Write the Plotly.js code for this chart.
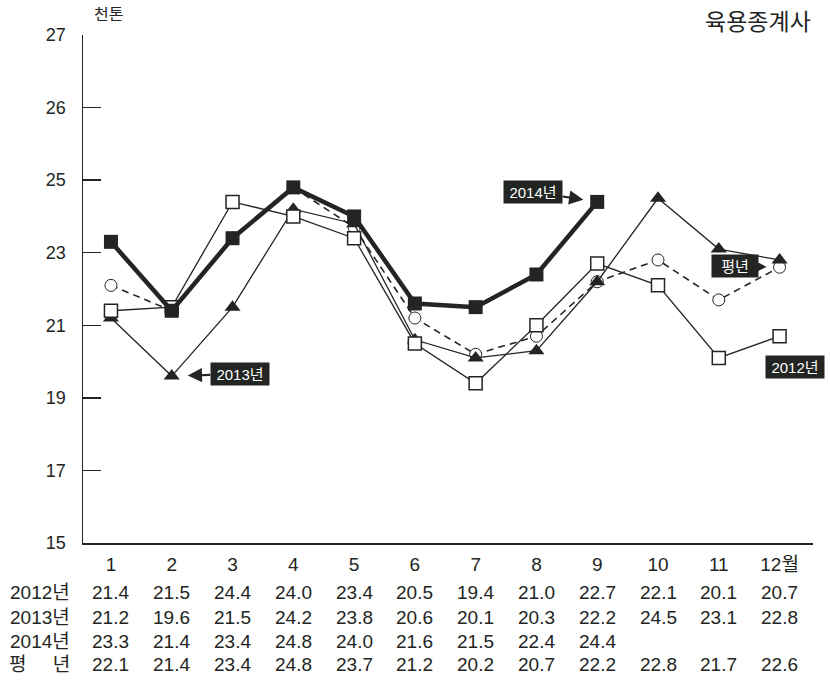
<!DOCTYPE html>
<html>
<head>
<meta charset="utf-8">
<script src="https://cdn.plot.ly/plotly-3.0.1.min.js"></script>
<style>
  html, body { margin: 0; padding: 0; background: #ffffff; }
  #chart { width: 830px; height: 686px; }
</style>
</head>
<body>
<div id="chart"></div>
<script>
// ---- data ----
const months = [1, 2, 3, 4, 5, 6, 7, 8, 9, 10, 11, 12];
const monthLabels = ['1', '2', '3', '4', '5', '6', '7', '8', '9', '10', '11', '12월'];
const y2012 = [21.4, 21.5, 24.4, 24.0, 23.4, 20.5, 19.4, 21.0, 22.7, 22.1, 20.1, 20.7];
const y2013 = [21.2, 19.6, 21.5, 24.2, 23.8, 20.6, 20.1, 20.3, 22.2, 24.5, 23.1, 22.8];
const y2014 = [23.3, 21.4, 23.4, 24.8, 24.0, 21.6, 21.5, 22.4, 24.4];
const yAvg  = [22.1, 21.4, 23.4, 24.8, 23.7, 21.2, 20.2, 20.7, 22.2, 22.8, 21.7, 22.6];
const seriesNames = ['2012년', '2013년', '2014년', '평년'];
const rowLabels = ['2012년', '2013년', '2014년', '평\u00a0\u00a0\u00a0\u00a0\u00a0년'];
const yTickVals = [15, 17, 19, 21, 23, 25, 27, 29];
const yTickText = ['15', '17', '19', '21', '23', '25', '26', '27'];
const unitLabel = '천톤';
const headerText = '육용종계사';

// ---- styles ----
const INK = '#222522';
const FONT = 'Liberation Sans, Arial, "Noto Sans CJK KR", sans-serif';

const traces = [
  {
    name: seriesNames[3], x: months, y: yAvg, type: 'scatter', mode: 'lines+markers',
    line: { color: INK, width: 1.6, dash: '7px,5px' },
    marker: { symbol: 'circle', size: 12, color: '#ffffff', line: { color: INK, width: 1 } }
  },
  {
    name: seriesNames[1], x: months, y: y2013, type: 'scatter', mode: 'lines+markers',
    line: { color: INK, width: 1.3 },
    marker: { symbol: 'triangle-up', size: 14, color: INK }
  },
  {
    name: seriesNames[0], x: months, y: y2012, type: 'scatter', mode: 'lines+markers',
    line: { color: INK, width: 1.3 },
    marker: { symbol: 'square', size: 13, color: '#ffffff', line: { color: INK, width: 1.5 } }
  },
  {
    name: seriesNames[2], x: months.slice(0, y2014.length), y: y2014, type: 'scatter', mode: 'lines+markers',
    line: { color: INK, width: 4.5 },
    marker: { symbol: 'square', size: 14, color: INK }
  }
];

const annotations = [];
// data table below the axis
const tableRows = [y2012, y2013, y2014, yAvg];
const rowY = [-0.098, -0.146, -0.193, -0.240];
tableRows.forEach((row, r) => {
  annotations.push({
    xref: 'paper', yref: 'paper', x: -0.015, y: rowY[r], xanchor: 'right', yanchor: 'middle',
    text: rowLabels[r], showarrow: false, font: { family: FONT, size: 19, color: INK }
  });
  row.forEach((v, i) => {
    annotations.push({
      xref: 'x', yref: 'paper', x: months[i], y: rowY[r], xanchor: 'center', yanchor: 'middle',
      text: v.toFixed(1), showarrow: false, font: { family: FONT, size: 19, color: INK }
    });
  });
});

// unit + header
annotations.push({
  xref: 'paper', yref: 'paper', x: 0.013, y: 1.04, xanchor: 'left', yanchor: 'middle',
  text: unitLabel, showarrow: false, font: { family: FONT, size: 16, color: INK }
});
annotations.push({
  xref: 'paper', yref: 'paper', x: 0.849, y: 1.026, xanchor: 'left', yanchor: 'middle',
  text: headerText, showarrow: false, font: { family: FONT, size: 23, color: INK }
});

// series callouts
const calloutStyle = {
  showarrow: true, arrowhead: 2, arrowsize: 1.3, arrowwidth: 2.2, arrowcolor: INK,
  bgcolor: INK, borderpad: 3, width: 52, height: 16,
  font: { family: FONT, size: 15, color: '#ffffff' }, axref: 'pixel', ayref: 'pixel'
};
const i14 = y2014.length - 1;
annotations.push(Object.assign({}, calloutStyle, {
  x: months[i14], y: y2014[i14], text: seriesNames[2], ax: -64, ay: -10, standoff: 14
}));
annotations.push(Object.assign({}, calloutStyle, {
  x: months[1], y: y2013[1], text: seriesNames[1], ax: 68, ay: -2, standoff: 16
}));
annotations.push(Object.assign({}, calloutStyle, {
  x: months[11], y: yAvg[11], text: seriesNames[3], ax: -45, ay: -1, standoff: 13, width: 40
}));
const t = 0.6;
annotations.push(Object.assign({}, calloutStyle, {
  x: months[10] + t, y: y2012[10] + t * (y2012[11] - y2012[10]), text: seriesNames[0],
  ax: 40, ay: 22, standoff: 2
}));

const layout = {
  width: 830, height: 686,
  margin: { l: 83, r: 17, t: 35, b: 143, pad: 0 },
  paper_bgcolor: '#ffffff', plot_bgcolor: '#ffffff',
  showlegend: false,
  font: { family: FONT, color: INK },
  xaxis: {
    range: [0.54, 12.55], showgrid: false, zeroline: false,
    showline: true, linecolor: INK, linewidth: 1.5,
    tickmode: 'array', tickvals: months, ticktext: monthLabels, ticks: '',
    tickfont: { family: FONT, size: 19, color: INK }, ticklabelstandoff: 4
  },
  yaxis: {
    range: [15, 29], showgrid: false, zeroline: false,
    showline: true, linecolor: INK, linewidth: 1.5,
    tickmode: 'array', tickvals: yTickVals, ticktext: yTickText,
    ticks: 'inside', ticklen: 18, tickwidth: 1.5, tickcolor: INK,
    tickfont: { family: FONT, size: 18, color: INK }, ticklabelstandoff: 12
  },
  annotations: annotations
};

Plotly.newPlot('chart', traces, layout, { displayModeBar: false, staticPlot: true });
</script>
</body>
</html>
